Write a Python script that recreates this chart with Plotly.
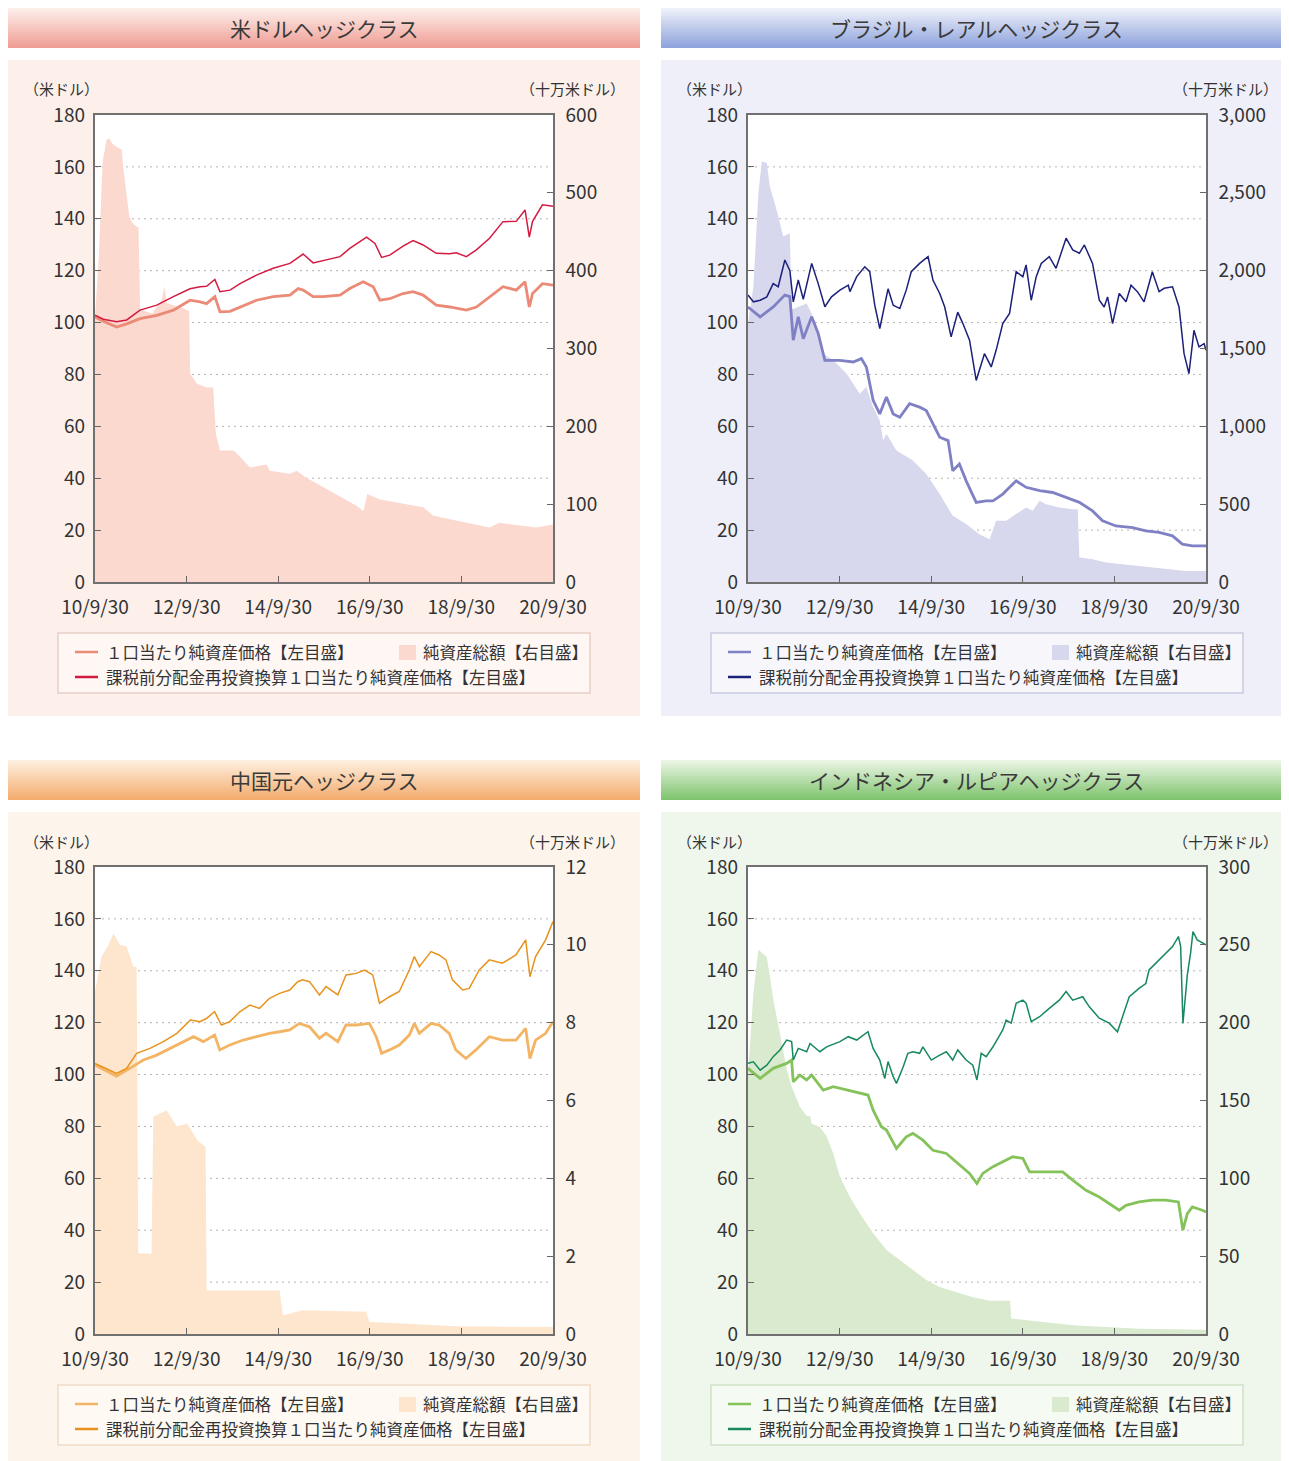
import plotly.graph_objects as go

# page offset of the plot div (browser body margin) is compensated below
PAGE = 8
WF, HF = 1289 - PAGE, 1461 - PAGE
FONT = "Noto Sans CJK JP"

# ---------------- common axis labels ----------------
x_tick_dates = ["2010-09-30", "2012-09-30", "2014-09-30", "2016-09-30", "2018-09-30", "2020-09-30"]
x_tick_labels = ["10/9/30", "12/9/30", "14/9/30", "16/9/30", "18/9/30", "20/9/30"]
left_ticks = [0, 20, 40, 60, 80, 100, 120, 140, 160, 180]
grid_values = [20, 40, 60, 80, 100, 120, 140, 160]

titles = ["米ドルヘッジクラス", "ブラジル・レアルヘッジクラス", "中国元ヘッジクラス", "インドネシア・ルピアヘッジクラス"]
legend_nav = "１口当たり純資産価格【左目盛】"
legend_aum = "純資産総額【右目盛】"
legend_reinv = "課税前分配金再投資換算１口当たり純資産価格【左目盛】"
unit_left = "（米ドル）"
unit_right = "（十万米ドル）"

right_ticks_usd = [0, 100, 200, 300, 400, 500, 600]
right_ticks_brl = [0, 500, 1000, 1500, 2000, 2500, 3000]
right_ticks_cny = [0, 2, 4, 6, 8, 10, 12]
right_ticks_idr = [0, 50, 100, 150, 200, 250, 300]

# ---------------- USD hedge class ----------------
usd_reinv_dates = ["2010-09-30", "2010-12-06", "2011-03-21", "2011-06-10", "2011-09-24", "2012-02-05", "2012-06-16",
                   "2012-10-27", "2013-01-16", "2013-03-08", "2013-05-13", "2013-06-23", "2013-09-11", "2013-11-30",
                   "2014-04-10", "2014-08-21", "2015-01-02", "2015-04-17", "2015-07-06", "2015-09-24", "2016-02-05",
                   "2016-04-23", "2016-09-04", "2016-11-10", "2017-01-02", "2017-03-08", "2017-06-22", "2017-09-10",
                   "2017-11-29", "2018-03-14", "2018-06-29", "2018-08-21", "2018-11-09", "2019-01-28", "2019-05-13",
                   "2019-08-28", "2019-12-12", "2020-02-20", "2020-03-25", "2020-04-20", "2020-07-08", "2020-09-30"]
usd_reinv = [102.8, 101.3, 100.3, 101.0, 104.8, 106.7, 110.0, 113.0, 113.8, 114.0, 116.6, 111.9, 112.5, 115.0,
             118.3, 120.9, 122.8, 126.4, 123.0, 124.0, 125.4, 128.6, 132.9, 130.5, 125.1, 126.0, 129.5, 131.6,
             129.9, 126.7, 126.5, 126.9, 125.4, 128.0, 132.5, 138.9, 139.0, 143.4, 132.9, 139.0, 145.4, 144.8]

usd_nav_dates = ["2010-09-30", "2010-12-06", "2011-03-21", "2011-06-10", "2011-09-24", "2012-02-05", "2012-06-16",
                 "2012-10-27", "2013-01-16", "2013-03-08", "2013-05-13", "2013-06-23", "2013-09-11", "2013-11-30",
                 "2014-04-10", "2014-08-21", "2015-01-02", "2015-03-08", "2015-04-17", "2015-07-06", "2015-09-24",
                 "2016-02-05", "2016-04-23", "2016-08-08", "2016-10-27", "2016-12-19", "2017-03-08", "2017-06-22",
                 "2017-09-10", "2017-11-29", "2018-03-14", "2018-06-29", "2018-11-09", "2019-01-28", "2019-05-13",
                 "2019-08-28", "2019-12-12", "2020-02-20", "2020-03-25", "2020-04-20", "2020-07-08", "2020-09-30"]
usd_nav = [102.2, 100.5, 98.3, 99.5, 101.5, 102.8, 104.8, 108.6, 108.0, 107.3, 110.0, 104.1, 104.3, 106.0,
           108.6, 110.0, 110.6, 113.1, 112.5, 110.0, 110.0, 110.6, 113.1, 115.7, 113.8, 108.6, 109.2, 111.2,
           111.9, 110.6, 106.7, 106.0, 104.8, 106.0, 110.0, 113.8, 112.5, 115.7, 106.0, 111.2, 115.0, 114.4]

usd_aum_dates = ["2010-09-30", "2010-10-31", "2010-11-30", "2010-12-31", "2011-01-20", "2011-02-15", "2011-03-31",
                 "2011-04-30", "2011-05-15", "2011-06-10", "2011-06-30", "2011-07-31", "2011-09-12", "2011-09-25",
                 "2011-12-31", "2012-03-15", "2012-04-05", "2012-04-25", "2012-08-31", "2012-10-20", "2012-10-28",
                 "2012-12-19", "2013-03-08", "2013-04-30", "2013-05-21", "2013-06-23", "2013-10-07", "2013-11-04",
                 "2014-02-18", "2014-06-28", "2014-07-25", "2015-01-02", "2015-02-24", "2015-05-13", "2015-09-24",
                 "2016-02-05", "2016-06-15", "2016-08-10", "2016-09-10", "2016-12-19", "2017-07-18", "2017-11-29",
                 "2018-02-18", "2018-08-21", "2019-01-01", "2019-05-13", "2019-07-31", "2020-02-04", "2020-05-19",
                 "2020-09-30"]
usd_aum = [340, 420, 540, 568, 570, 563, 558, 556, 530, 500, 470, 460, 455, 350, 345, 362, 380, 358, 352, 348,
           268, 255, 250, 250, 190, 169, 169, 165, 147, 151, 143, 139, 143, 134, 122, 109, 98, 91, 113, 106,
           100, 96, 85, 79, 74, 70, 76, 72, 70, 74]

# ---------------- BRL hedge class ----------------
brl_reinv_dates = ["2010-09-30", "2010-11-12", "2011-01-05", "2011-02-27", "2011-04-19", "2011-05-29", "2011-07-21",
                   "2011-08-30", "2011-09-26", "2011-11-05", "2011-12-15", "2012-02-20", "2012-04-12", "2012-06-04",
                   "2012-07-27", "2012-10-02", "2012-12-08", "2012-12-21", "2013-02-13", "2013-04-18", "2013-05-28",
                   "2013-07-07", "2013-08-16", "2013-10-21", "2013-12-01", "2014-01-23", "2014-03-15", "2014-04-24",
                   "2014-06-30", "2014-09-05", "2014-10-14", "2014-12-07", "2015-01-16", "2015-03-08", "2015-04-30",
                   "2015-06-10", "2015-08-02", "2015-09-24", "2015-11-29", "2016-01-22", "2016-03-01", "2016-04-23",
                   "2016-06-16", "2016-08-08", "2016-09-30", "2016-10-26", "2016-12-06", "2017-01-15", "2017-02-24",
                   "2017-04-29", "2017-06-22", "2017-09-10", "2017-11-02", "2017-12-25", "2018-02-03", "2018-04-09",
                   "2018-06-02", "2018-07-11", "2018-08-07", "2018-09-16", "2018-11-08", "2019-01-01", "2019-02-10",
                   "2019-04-02", "2019-05-25", "2019-07-30", "2019-09-22", "2019-11-01", "2020-01-07", "2020-02-28",
                   "2020-04-08", "2020-05-17", "2020-06-26", "2020-08-05", "2020-09-15", "2020-09-30"]
brl_reinv = [110.6, 108.0, 108.6, 109.9, 115.0, 113.8, 124.1, 120.0, 108.0, 116.4,
             109.0, 122.8, 115.0, 106.1, 109.9, 112.5, 114.4, 111.9, 117.7, 121.5,
             119.6, 106.7, 97.7, 113.0, 106.7, 105.4, 112.5, 119.6, 122.8, 125.4,
             116.4, 111.2, 106.0, 94.5, 104.0, 99.6, 93.2, 77.7, 88.0, 82.9,
             89.3, 99.6, 103.5, 119.6, 117.7, 122.2, 108.6, 117.7, 122.8, 125.4,
             120.9, 132.5, 128.0, 126.7, 129.9, 122.8, 108.6, 106.0, 109.9, 99.6,
             111.2, 108.0, 114.4, 111.9, 108.0, 119.6, 111.9, 113.2, 113.8, 106.0,
             88.0, 80.3, 97.0, 90.6, 91.9, 89.3]

brl_nav_dates = ["2010-09-30", "2011-01-05", "2011-04-19", "2011-07-21", "2011-08-30", "2011-09-26", "2011-11-05",
                 "2011-12-15", "2012-02-20", "2012-04-12", "2012-06-04", "2012-10-02", "2013-01-17", "2013-03-22",
                 "2013-05-01", "2013-06-24", "2013-08-16", "2013-10-08", "2013-12-01", "2014-01-23", "2014-04-11",
                 "2014-06-30", "2014-08-22", "2014-10-14", "2014-12-07", "2015-02-12", "2015-03-21", "2015-05-13",
                 "2015-07-06", "2015-09-24", "2015-12-13", "2016-02-05", "2016-04-23", "2016-08-08", "2016-10-26",
                 "2017-02-11", "2017-05-26", "2017-09-10", "2017-12-25", "2018-04-09", "2018-06-28", "2018-10-12",
                 "2019-02-23", "2019-06-08", "2019-09-22", "2020-01-07", "2020-03-25", "2020-06-13", "2020-09-30"]
brl_nav = [106.0, 102.2, 106.0, 110.6, 110.0, 93.2, 102.2, 93.8, 102.2, 95.8,
           85.4, 85.4, 84.8, 86.1, 82.9, 70.0, 64.8, 71.3, 64.8, 63.5,
           68.7, 67.4, 66.1, 61.0, 55.8, 54.5, 42.9, 45.5, 39.0, 30.7,
           31.3, 31.3, 33.9, 39.0, 36.5, 35.2, 34.5, 32.6, 30.7, 27.4,
           23.6, 21.6, 21.0, 19.7, 19.1, 17.8, 14.6, 13.9, 13.9]

brl_aum_dates = ["2010-09-30", "2010-11-12", "2010-12-22", "2011-01-18", "2011-02-27", "2011-03-23", "2011-05-16",
                 "2011-07-08", "2011-08-30", "2011-09-13", "2012-01-11", "2012-02-20", "2012-05-22", "2012-08-10",
                 "2012-11-25", "2013-01-17", "2013-03-09", "2013-05-01", "2013-06-24", "2013-08-16", "2013-09-12",
                 "2013-10-08", "2013-12-27", "2014-05-07", "2014-08-22", "2014-12-07", "2015-03-21", "2015-07-06",
                 "2015-10-20", "2016-01-09", "2016-03-01", "2016-05-20", "2016-08-08", "2016-10-26", "2016-12-19",
                 "2017-02-11", "2017-04-03", "2017-07-18", "2017-11-02", "2017-12-12", "2017-12-25", "2018-04-09",
                 "2018-07-24", "2018-12-05", "2019-04-15", "2019-08-26", "2020-01-07", "2020-04-21", "2020-09-30"]
brl_aum = [1660, 1897, 2498, 2702, 2691, 2541, 2391, 2219, 2240, 1750,
           1789, 1725, 1467, 1424, 1338, 1274, 1209, 1252, 1123, 1037,
           909, 952, 844, 780, 694, 565, 425, 372, 307, 275,
           393, 393, 436, 479, 458, 522, 500, 479, 468, 468,
           157, 146, 125, 114, 103, 92, 82, 71, 71]

# ---------------- CNY hedge class ----------------
cny_reinv_dates = ["2010-09-30", "2010-12-19", "2011-03-20", "2011-06-09", "2011-08-28", "2011-12-12", "2012-03-28",
                   "2012-07-14", "2012-10-30", "2013-01-14", "2013-03-06", "2013-05-11", "2013-07-04", "2013-09-09",
                   "2013-11-28", "2014-02-16", "2014-05-04", "2014-07-23", "2014-10-11", "2014-12-31", "2015-03-05",
                   "2015-04-14", "2015-06-07", "2015-08-25", "2015-10-17", "2016-01-19", "2016-03-24", "2016-06-13",
                   "2016-08-19", "2016-10-23", "2016-12-16", "2017-03-06", "2017-05-23", "2017-08-11", "2017-09-20",
                   "2017-10-30", "2018-01-31", "2018-04-06", "2018-05-30", "2018-07-21", "2018-10-10", "2018-12-02",
                   "2019-02-20", "2019-05-11", "2019-08-23", "2019-12-09", "2020-02-25", "2020-03-30", "2020-05-14",
                   "2020-08-02", "2020-09-30"]
cny_reinv = [104.3, 102.4, 100.4, 102.4, 108.2, 110.1, 112.7, 115.9, 121.0, 120.4,
             121.6, 124.2, 119.1, 120.4, 124.2, 126.8, 125.5, 129.4, 131.3, 132.6,
             135.8, 136.5, 135.8, 130.7, 133.9, 130.7, 138.4, 139.0, 140.3, 138.4,
             127.5, 130.0, 132.0, 140.3, 145.5, 141.6, 147.4, 146.1, 144.2, 136.5,
             132.6, 133.2, 140.3, 144.2, 142.9, 146.1, 151.9, 137.7, 145.5, 151.9, 159.0]

cny_nav_dates = ["2010-09-30", "2010-12-19", "2011-03-20", "2011-07-05", "2011-10-20", "2012-02-04", "2012-05-19",
                 "2012-09-05", "2012-11-24", "2013-02-10", "2013-05-11", "2013-06-21", "2013-09-09", "2013-12-25",
                 "2014-04-08", "2014-07-23", "2014-10-11", "2014-12-31", "2015-03-18", "2015-06-07", "2015-08-25",
                 "2015-10-17", "2016-01-19", "2016-03-24", "2016-06-13", "2016-09-27", "2016-11-20", "2017-01-02",
                 "2017-03-06", "2017-05-23", "2017-08-11", "2017-09-20", "2017-10-30", "2018-01-31", "2018-04-06",
                 "2018-06-25", "2018-08-17", "2018-11-05", "2019-01-24", "2019-05-11", "2019-08-23", "2019-12-09",
                 "2020-02-25", "2020-03-30", "2020-05-14", "2020-08-02", "2020-09-30"]
cny_nav = [103.7, 101.8, 99.4, 102.4, 105.6, 107.5, 110.1, 112.7, 114.6, 112.7,
           115.2, 109.5, 111.4, 113.3, 114.6, 115.9, 116.5, 117.2, 119.7, 118.4,
           114.0, 115.9, 112.7, 119.1, 119.1, 119.7, 114.6, 108.2, 109.5, 111.4,
           115.2, 119.7, 115.9, 119.7, 119.1, 115.9, 109.5, 106.2, 109.5, 114.6,
           113.3, 113.3, 117.8, 106.2, 113.3, 115.9, 120.4]

cny_aum_dates = ["2010-09-30", "2010-11-22", "2011-01-16", "2011-02-24", "2011-04-16", "2011-06-09", "2011-08-01",
                 "2011-08-28", "2011-09-10", "2011-12-25", "2012-01-08", "2012-03-01", "2012-04-23", "2012-07-14",
                 "2012-10-03", "2012-12-24", "2013-02-28", "2013-03-08", "2014-10-11", "2014-11-07", "2015-04-14",
                 "2016-09-01", "2016-09-27", "2017-06-20", "2018-08-17", "2020-09-30"]
cny_aum = [8.8, 9.7, 10.0, 10.3, 10.0, 9.96, 9.44, 9.44, 2.07, 2.07,
           5.58, 5.67, 5.75, 5.33, 5.41, 4.98, 4.8, 1.12, 1.12, 0.48,
           0.61, 0.57, 0.31, 0.27, 0.2, 0.18]

# ---------------- IDR hedge class ----------------
idr_reinv_dates = ["2010-09-30", "2010-11-12", "2011-01-05", "2011-02-27", "2011-04-19", "2011-06-12", "2011-08-04",
                   "2011-09-13", "2011-09-26", "2011-11-05", "2012-01-11", "2012-02-07", "2012-04-25", "2012-06-18",
                   "2012-10-02", "2012-12-08", "2013-02-13", "2013-05-14", "2013-06-24", "2013-08-16", "2013-09-25",
                   "2013-10-21", "2013-12-01", "2013-12-27", "2014-02-19", "2014-03-28", "2014-05-07", "2014-06-30",
                   "2014-07-26", "2014-10-01", "2014-12-07", "2015-01-29", "2015-03-21", "2015-04-30", "2015-07-06",
                   "2015-08-28", "2015-09-30", "2015-11-03", "2015-12-13", "2016-02-05", "2016-04-23", "2016-05-20",
                   "2016-06-29", "2016-08-08", "2016-09-30", "2016-10-26", "2016-12-06", "2017-02-11", "2017-04-29",
                   "2017-07-18", "2017-09-10", "2017-11-02", "2018-01-21", "2018-03-13", "2018-06-02", "2018-08-20",
                   "2018-10-25", "2018-12-05", "2019-01-27", "2019-04-15", "2019-06-08", "2019-07-04", "2019-09-22",
                   "2020-01-07", "2020-02-23", "2020-03-12", "2020-03-30", "2020-05-04", "2020-05-30", "2020-06-18",
                   "2020-07-22", "2020-09-01", "2020-09-30"]
idr_reinv = [104.3, 104.9, 101.7, 103.6, 106.9, 109.5, 113.3, 112.7, 105.6, 110.1,
             108.8, 112.0, 108.8, 110.7, 112.7, 114.6, 113.3, 116.5, 110.1, 105.6,
             98.5, 105.0, 99.2, 96.6, 103.0, 108.2, 108.8, 108.2, 110.7, 105.6,
             107.5, 108.8, 105.6, 109.5, 105.6, 103.6, 97.9, 108.2, 106.9, 110.7,
             117.2, 121.0, 119.8, 127.5, 128.7, 127.5, 120.4, 122.3, 125.5, 128.7,
             132.0, 128.7, 130.0, 126.2, 121.7, 119.8, 116.5, 122.3, 130.0, 133.2,
             135.1, 140.3, 144.2, 149.3, 153.2, 149.3, 119.7, 138.4, 146.8, 155.1,
             151.9, 150.6, 150.0]

idr_nav_dates = ["2010-09-30", "2011-01-05", "2011-04-19", "2011-08-04", "2011-09-13", "2011-09-26", "2011-11-18",
                 "2012-01-11", "2012-02-20", "2012-05-22", "2012-08-10", "2012-11-25", "2013-03-09", "2013-05-14",
                 "2013-06-24", "2013-08-29", "2013-10-08", "2013-12-27", "2014-03-15", "2014-05-07", "2014-07-26",
                 "2014-10-14", "2015-01-29", "2015-04-17", "2015-08-02", "2015-09-30", "2015-11-16", "2016-02-05",
                 "2016-04-23", "2016-07-12", "2016-09-30", "2016-11-23", "2017-04-03", "2017-08-14", "2017-11-02",
                 "2018-02-16", "2018-06-02", "2018-08-20", "2018-11-08", "2019-01-01", "2019-04-15", "2019-07-30",
                 "2019-11-14", "2020-02-23", "2020-03-30", "2020-05-04", "2020-06-13", "2020-09-01", "2020-09-30"]
idr_nav = [102.4, 98.5, 102.4, 104.3, 105.6, 97.2, 99.8, 97.9, 99.8, 94.0,
           95.3, 94.0, 92.7, 92.1, 86.3, 79.9, 78.6, 71.5, 76.0, 77.3,
           74.7, 70.8, 69.6, 66.4, 61.9, 58.0, 61.9, 64.5, 66.4, 68.3,
           67.7, 62.5, 62.5, 62.5, 59.3, 55.4, 52.8, 50.2, 47.7, 49.6,
           50.9, 51.6, 51.6, 50.9, 40.0, 46.4, 49.0, 47.7, 47.0]

idr_aum_dates = ["2010-09-30", "2010-11-12", "2010-12-22", "2011-02-27", "2011-03-23", "2011-04-19", "2011-06-12",
                 "2011-08-04", "2011-09-13", "2011-11-18", "2012-01-11", "2012-02-07", "2012-02-20", "2012-04-25",
                 "2012-06-18", "2012-08-10", "2012-10-02", "2012-12-21", "2013-03-09", "2013-06-24", "2013-10-08",
                 "2014-01-23", "2014-05-07", "2014-08-22", "2014-12-07", "2015-04-17", "2015-08-28", "2016-01-09",
                 "2016-06-21", "2016-06-29", "2017-02-11", "2017-11-02", "2018-07-24", "2019-04-15", "2020-09-30"]
idr_aum = [167, 219, 247, 242, 230, 215, 193, 170, 159, 146,
           140, 140, 135, 133, 127, 116, 101, 88, 77.6, 64.7,
           54, 47.4, 41, 34.7, 30.2, 27, 23.6, 21.4, 21.4, 9.9,
           7.7, 5.6, 4.5, 3.4, 2.8]

for d, v in [(usd_reinv_dates, usd_reinv), (usd_nav_dates, usd_nav), (usd_aum_dates, usd_aum),
             (brl_reinv_dates, brl_reinv), (brl_nav_dates, brl_nav), (brl_aum_dates, brl_aum),
             (cny_reinv_dates, cny_reinv), (cny_nav_dates, cny_nav), (cny_aum_dates, cny_aum),
             (idr_reinv_dates, idr_reinv), (idr_nav_dates, idr_nav), (idr_aum_dates, idr_aum)]:
    assert len(d) == len(v), (len(d), len(v))

# ---------------- panel styling ----------------
panels = [
    dict(title=titles[0], off=(0, 0), rmax=600, rticks=right_ticks_usd,
         nav=(usd_nav_dates, usd_nav), reinv=(usd_reinv_dates, usd_reinv), aum=(usd_aum_dates, usd_aum),
         c_nav="#eb8a76", c_reinv="#d41a40", c_aum="#fbd9cf", bg="#fdf0eb",
         h0="#fdeeea", h1="#ef9e95", lg_bg="#fef7f4", lg_bd="#e8cfc8"),
    dict(title=titles[1], off=(653, 0), rmax=3000, rticks=right_ticks_brl,
         nav=(brl_nav_dates, brl_nav), reinv=(brl_reinv_dates, brl_reinv), aum=(brl_aum_dates, brl_aum),
         c_nav="#8080c4", c_reinv="#1c2079", c_aum="#d7d7ee", bg="#eeeff8",
         h0="#eef1fa", h1="#8fa3dc", lg_bg="#f6f6fb", lg_bd="#c9cadf"),
    dict(title=titles[2], off=(0, 752), rmax=12, rticks=right_ticks_cny,
         nav=(cny_nav_dates, cny_nav), reinv=(cny_reinv_dates, cny_reinv), aum=(cny_aum_dates, cny_aum),
         c_nav="#f3b464", c_reinv="#e8921c", c_aum="#fde6cd", bg="#fdf4ec",
         h0="#fdefdf", h1="#f4ac6e", lg_bg="#fef9f3", lg_bd="#efdcc8"),
    dict(title=titles[3], off=(653, 752), rmax=300, rticks=right_ticks_idr,
         nav=(idr_nav_dates, idr_nav), reinv=(idr_reinv_dates, idr_reinv), aum=(idr_aum_dates, idr_aum),
         c_nav="#85c35a", c_reinv="#17895c", c_aum="#d9eacf", bg="#eff6ec",
         h0="#eaf5e4", h1="#7fc46e", lg_bg="#f5faf2", lg_bd="#cfe3c6"),
]

shapes = []
annotations = []


def fx(x):
    return min(max((x - PAGE) / WF, 0.0), 1.0)


def fy(y):
    return min(max(1 - (y - PAGE) / HF, 0.0), 1.0)


def prect(x0, y0, x1, y1, fill, lc=None, lw=0, layer="below"):
    shapes.append(dict(type="rect", xref="paper", yref="paper",
                       x0=fx(x0), x1=fx(x1), y0=fy(y1), y1=fy(y0),
                       fillcolor=fill, layer=layer,
                       line=dict(color=lc if lc else "rgba(0,0,0,0)", width=lw)))


def hex2rgb(h):
    return tuple(int(h[i:i + 2], 16) for i in (1, 3, 5))


def gradient(x0, y0, x1, y1, c0, c1, n=20):
    r0, r1 = hex2rgb(c0), hex2rgb(c1)
    for k in range(n):
        t = k / (n - 1)
        col = "rgb(%d,%d,%d)" % tuple(round(a + (b - a) * t) for a, b in zip(r0, r1))
        ya = y0 + (y1 - y0) * k / n
        yb = y0 + (y1 - y0) * (k + 1) / n + 0.6
        prect(x0, ya, x1, min(yb, y1), col)


def text(x, y, s, size, xanchor="left", color="#333333"):
    annotations.append(dict(xref="paper", yref="paper", x=fx(x), y=fy(y), text=s,
                            showarrow=False, xanchor=xanchor, yanchor="middle",
                            font=dict(family=FONT, size=size, color=color)))


fig = go.Figure()
layout = dict(width=WF, height=HF, margin=dict(l=0, r=0, t=0, b=0, pad=0, autoexpand=False),
              paper_bgcolor="white", plot_bgcolor="rgba(0,0,0,0)", showlegend=False,
              font=dict(family=FONT, color="#333333"))

tickfont = dict(family=FONT, size=19, color="#333333")

# backgrounds first (order matters for shapes)
for p in panels:
    ox, oy = p["off"]
    prect(8 + ox, 60 + oy, 640 + ox, 716 + oy, p["bg"])
    gradient(8 + ox, 8 + oy, 640 + ox, 48 + oy, p["h0"], p["h1"])
    prect(95 + ox, 115 + oy, 553 + ox, 582 + oy, "white")
    prect(58 + ox, 633 + oy, 590 + ox, 693 + oy, p["lg_bg"], p["lg_bd"], 1.5)

for i, p in enumerate(panels):
    ox, oy = p["off"]
    xid = i + 1
    yb = 2 * i + 1
    yo = 2 * i + 2
    xname = "x" if xid == 1 else "x%d" % xid
    ybname = "y" if yb == 1 else "y%d" % yb
    yoname = "y%d" % yo
    xkey = "xaxis" if xid == 1 else "xaxis%d" % xid
    ybkey = "yaxis" if yb == 1 else "yaxis%d" % yb
    yokey = "yaxis%d" % yo

    layout[xkey] = dict(domain=[fx(95 + ox), fx(553 + ox)], anchor=ybname, type="date",
                        range=["2010-09-30", "2020-09-30"], tickvals=x_tick_dates, ticktext=x_tick_labels,
                        ticks="inside", ticklen=6, tickcolor="#666666", showline=True, mirror=True,
                        linecolor="#707070", linewidth=1.5, showgrid=False, zeroline=False,
                        tickfont=tickfont, ticklabelstandoff=7, fixedrange=True, automargin=False)
    rlabels = ["{:,}".format(v) for v in p["rticks"]]
    layout[ybkey] = dict(domain=[fy(582 + oy), fy(115 + oy)], anchor=xname, side="right",
                         range=[0, p["rmax"]], tickvals=p["rticks"], ticktext=rlabels,
                         ticks="inside", ticklen=6, tickcolor="#666666", showline=True, mirror=True,
                         linecolor="#707070", linewidth=1.5, showgrid=False, zeroline=False,
                         tickfont=tickfont, ticklabelstandoff=7, fixedrange=True, automargin=False)
    layout[yokey] = dict(overlaying=ybname, anchor=xname, side="left", range=[0, 180],
                         tickvals=left_ticks, ticks="inside", ticklen=6, tickcolor="#666666",
                         showline=False, showgrid=False, zeroline=False,
                         tickfont=tickfont, ticklabelstandoff=9, fixedrange=True, automargin=False)

    # dotted grid lines (left scale), drawn beneath all traces
    for g in grid_values:
        shapes.append(dict(type="line", xref="paper", yref=yoname, x0=fx(96 + ox), x1=fx(552 + ox),
                           y0=g, y1=g, layer="below",
                           line=dict(color="#b4b4b4", width=1, dash="2px,4px")))

    d, v = p["aum"]
    fig.add_trace(go.Scatter(x=d, y=v, xaxis=xname, yaxis=ybname, mode="lines", fill="tozeroy",
                             fillcolor=p["c_aum"], line=dict(width=0, color=p["c_aum"]), hoverinfo="skip"))
    d, v = p["nav"]
    fig.add_trace(go.Scatter(x=d, y=v, xaxis=xname, yaxis=yoname, mode="lines",
                             line=dict(width=2.8, color=p["c_nav"]), hoverinfo="skip"))
    d, v = p["reinv"]
    fig.add_trace(go.Scatter(x=d, y=v, xaxis=xname, yaxis=yoname, mode="lines",
                             line=dict(width=1.5, color=p["c_reinv"]), hoverinfo="skip"))

    # header title and unit labels
    text(324 + ox, 28 + oy, p["title"], 21, "center", "#3a3a3a")
    text(22 + ox, 89 + oy, unit_left, 15, "left")
    text(627 + ox, 89 + oy, unit_right, 15, "right")

    # legend
    for (yy, col) in [(652 + oy, p["c_nav"]), (677 + oy, p["c_reinv"])]:
        shapes.append(dict(type="line", xref="paper", yref="paper", x0=fx(75 + ox), x1=fx(98 + ox),
                           y0=fy(yy), y1=fy(yy), layer="above", line=dict(color=col, width=2.5)))
    prect(399 + ox, 645 + oy, 416 + ox, 660 + oy, p["c_aum"], layer="above")
    text(104 + ox, 652 + oy, legend_nav, 16.5)
    text(421 + ox, 652 + oy, legend_aum, 16.5)
    text(104 + ox, 677 + oy, legend_reinv, 16.5)

layout["shapes"] = shapes
layout["annotations"] = annotations
fig.update_layout(**layout)
fig.write_html("out.html")
